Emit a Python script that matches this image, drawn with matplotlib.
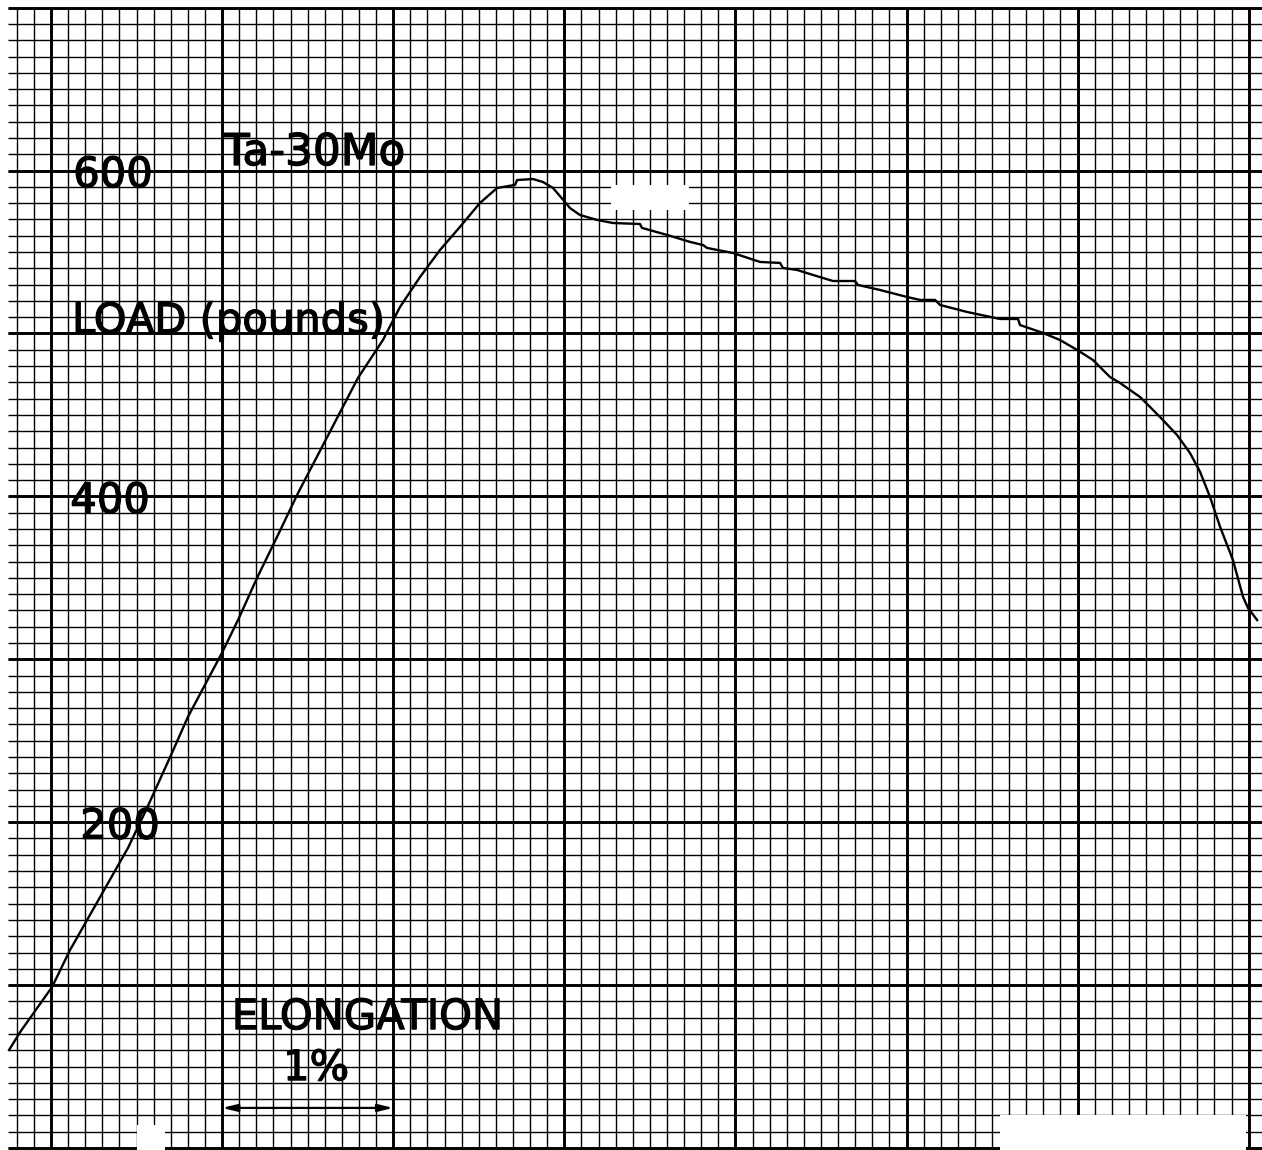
import numpy as np
import matplotlib
matplotlib.use("Agg")
import matplotlib.pyplot as plt
import matplotlib.patheffects as pe
from matplotlib.patches import Rectangle

# Load–elongation record for Ta-30Mo (elongation in %, load in pounds)
elongation = [-0.245, -0.175, 0.006, 0.111, 0.450, 0.561, 0.707, 0.800, 0.999,
              1.093, 1.204, 1.321, 1.444, 1.794, 1.940, 2.040, 2.157, 2.274,
              2.390, 2.507, 2.607, 2.712, 2.724, 2.817, 2.875, 2.934, 3.004,
              3.033, 3.092, 3.191, 3.285, 3.442, 3.454, 3.600, 3.735, 3.811,
              3.834, 3.986, 4.144, 4.261, 4.278, 4.360, 4.454, 4.570, 4.699,
              4.716, 4.845, 5.003, 5.079, 5.167, 5.196, 5.354, 5.546, 5.652,
              5.663, 5.798, 5.897, 5.997, 6.090, 6.189, 6.248, 6.365, 6.482,
              6.581, 6.657, 6.716, 6.774, 6.833, 6.908, 6.967, 6.996, 7.049]
load = [60.2, 72.0, 98.8, 121.5, 184.2, 208.7, 242.5, 264.6, 303.9,
        324.1, 349.9, 375.1, 402.1, 472.7, 496.0, 516.3, 534.7, 551.3,
        565.4, 580.1, 589.3, 591.2, 594.2, 594.8, 593.0, 589.3, 580.7,
        577.0, 572.7, 569.7, 567.8, 567.2, 564.8, 560.5, 556.2, 554.3,
        552.5, 549.4, 543.9, 543.3, 540.2, 539.0, 535.9, 532.2, 532.2,
        529.8, 526.7, 522.4, 520.6, 520.6, 517.5, 513.2, 508.9, 508.9,
        505.2, 500.3, 496.0, 489.9, 483.7, 473.3, 469.6, 461.0, 448.7,
        437.7, 426.6, 415.0, 399.6, 381.2, 360.9, 338.2, 331.5, 324.1]

load_labels = ["600", "400", "200"]
load_label_values = [600, 400, 200]

# Chart-paper ruling
x_lo, x_hi = -0.2981, 7.0777
y_lo, y_hi = -1.228, 704.7
grid_x_start = -0.25
major_x = np.arange(0, 8, 1)
minor_x = np.round(np.arange(-0.2, 7.01, 0.1), 2)
major_y = np.arange(0, 701, 100)
minor_y = np.arange(0, 701, 10)

fig = plt.figure(figsize=(12.62, 11.5), dpi=100)
ax = fig.add_axes([0, 0, 1, 1])
ax.set_xlim(x_lo, x_hi)
ax.set_ylim(y_lo, y_hi)
ax.axis("off")

ax.vlines(minor_x, 0, 700, colors="black", lw=1.0, zorder=1)
ax.hlines(minor_y, grid_x_start, x_hi, colors="black", lw=1.0, zorder=1)
ax.vlines(major_x, 0, 700, colors="black", lw=2.1, zorder=2)
ax.hlines(major_y, grid_x_start, x_hi, colors="black", lw=2.1, zorder=2)

# worn spots on the paper
for (x0, y0, w, h) in [(3.27, 576, 0.46, 15), (0.50, -2, 0.167, 16),
                       (5.546, -2, 1.44, 22.3)]:
    ax.add_patch(Rectangle((x0, y0), w, h, facecolor="white",
                           edgecolor="none", zorder=3))

# recorded trace
ax.plot(elongation, load, color="black", lw=1.7, zorder=5,
        solid_joinstyle="round", clip_on=False)

stroke = [pe.withStroke(linewidth=0.9, foreground="black")]
tkw = dict(fontsize=30, family="DejaVu Sans", color="black", zorder=6,
           path_effects=stroke)

label_x = [0.362, 0.345, 0.403]
for txt, val, lx in zip(load_labels, load_label_values, label_x):
    ax.text(lx, val - 10.1, txt, ha="center", va="baseline", **tkw)

ax.text(1.537, 603.4, "Ta-30Mo", ha="center", va="baseline",
        **{**tkw, "fontsize": 31.5})
ax.text(0.123, 500.3, "LOAD (pounds)", ha="left", va="baseline", **tkw)
ax.text(1.85, 73.0, "ELONGATION", ha="center", va="baseline", **tkw)
ax.text(1.549, 41.7, "1%", ha="center", va="baseline", **tkw)

ax.annotate("", xy=(1.0, 24.6), xytext=(2.0, 24.6),
            arrowprops=dict(arrowstyle="<|-|>,head_length=0.9,head_width=0.22",
                            color="black", lw=1.6, shrinkA=0, shrinkB=0),
            zorder=6)

fig.savefig("out.png", dpi=100, facecolor="white")
